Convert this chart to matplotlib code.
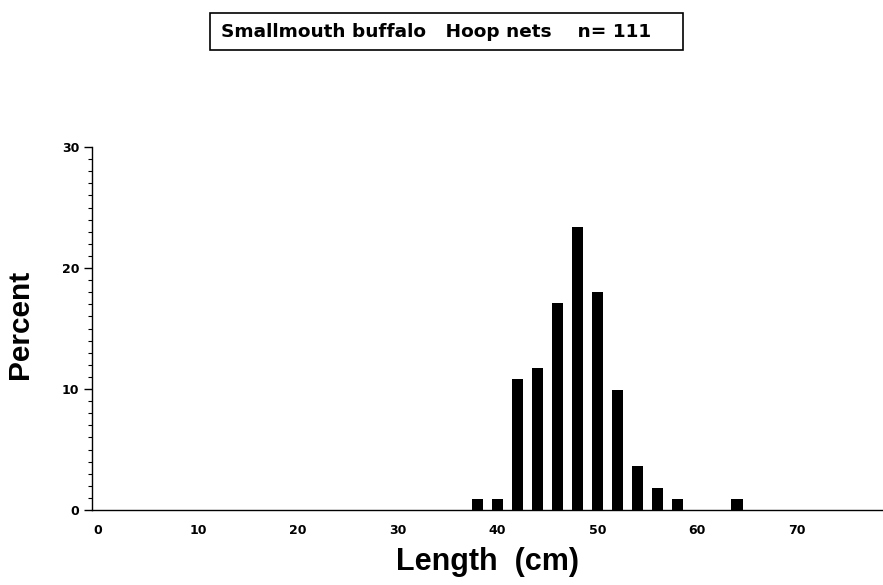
import matplotlib
matplotlib.use("Agg")
import matplotlib.pyplot as plt
from matplotlib.patches import Rectangle
from matplotlib import font_manager as fm
import numpy as np

plt.rcParams['font.family'] = ['Liberation Sans', 'DejaVu Sans']

lengths = [38, 40, 42, 44, 46, 48, 50, 52, 54, 56, 58, 64]
counts = [1, 1, 12, 13, 19, 26, 20, 11, 4, 2, 1, 1]
n_total = 111
percent = [c / n_total * 100 for c in counts]
x_ticks = [0, 10, 20, 30, 40, 50, 60, 70]
y_ticks = [0, 10, 20, 30]
title = "Smallmouth buffalo   Hoop nets    n= 111"


def bold_sans(size):
    for f in fm.fontManager.ttflist:
        if f.name == 'Liberation Sans' and f.weight in (700, 'bold') and f.style == 'normal' \
                and 'Narrow' not in f.fname:
            return fm.FontProperties(fname=f.fname, size=size)
    return fm.FontProperties(family='DejaVu Sans', weight='bold', size=size)


W, H = 883, 585
fig = plt.figure(figsize=(W / 100, H / 100), dpi=100)
ax = fig.add_axes([92 / W, 1 - 510 / H, 1 - 92 / W, (510 - 147) / H])
ax.bar(lengths, percent, width=1.15, color='black', align='center')
ax.set_xlim(-0.6, 78.6)
ax.set_ylim(0, 30)
for s in ['top', 'right']:
    ax.spines[s].set_visible(False)
ax.spines['left'].set_linewidth(1.0)
ax.spines['bottom'].set_linewidth(1.0)
tick_font = dict(family='DejaVu Sans', size=9, weight='bold')
ax.set_xticks(x_ticks)
ax.set_xticklabels([str(v) for v in x_ticks], fontdict=tick_font)
ax.set_yticks(y_ticks)
ax.set_yticks(np.arange(0, 31, 1), minor=True)
ax.set_yticklabels([str(v) for v in y_ticks], fontdict=tick_font)
ax.tick_params(axis='x', length=0, pad=10)
ax.tick_params(axis='y', which='major', length=6, width=1, direction='out', pad=3)
ax.tick_params(axis='y', which='minor', length=3, width=0.8, direction='out')
ax.set_xlabel("Length  (cm)", fontproperties=bold_sans(22), labelpad=7)

fig.text(20 / W, 1 - 324 / H, "Percent", rotation=90, ha='center', va='center',
         fontproperties=bold_sans(21.5))

fig.patches.append(Rectangle((210 / W, 1 - 50 / H), (683 - 210) / W, (50 - 13) / H,
                             transform=fig.transFigure, facecolor='white',
                             edgecolor='black', linewidth=1.2, zorder=0))
fig.text(436 / W, 1 - 32 / H, title, ha='center', va='center', fontsize=13.3,
         fontweight='bold', family='DejaVu Sans')

fig.savefig('out.png', dpi=100)
